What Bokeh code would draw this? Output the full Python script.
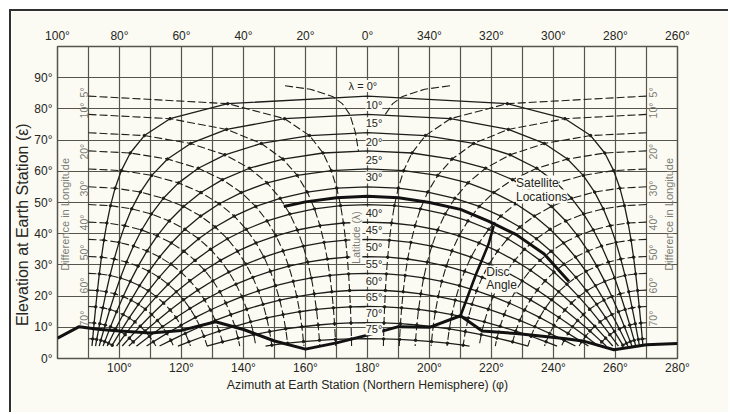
import math
from bokeh.plotting import figure
from bokeh.models import FixedTicker, LinearAxis, Range1d, Label
from bokeh.embed import file_html
from bokeh.resources import INLINE

# ---------------- data ----------------
lat_deg = [5, 10, 15, 20, 25, 30, 35, 40, 45, 50, 55, 60, 65, 70, 75]
dlon_deg = [0, 5, 10, 15, 20, 25, 30, 35, 40, 45, 50, 55, 60, 65, 70, 75]

# elevation (deg) where latitude curve (row) meets longitude-difference curve (column)
elev = [
    [84.11, 81.68, 76.86, 71.45, 65.86, 60.23, 54.59, 48.99, 43.43, 37.93, 32.48, 27.11, 21.80, 16.56, 11.39, 6.29],
    [78.23, 76.86, 73.42, 68.92, 63.92, 58.68, 53.34, 47.96, 42.58, 37.22, 31.89, 26.62, 21.40, 16.24, 11.15, 6.11],
    [72.37, 71.45, 68.92, 65.28, 60.98, 56.29, 51.35, 46.30, 41.19, 36.05, 30.92, 25.82, 20.74, 15.72, 10.74, 5.82],
    [66.55, 65.86, 63.92, 60.98, 57.32, 53.19, 48.74, 44.09, 39.32, 34.48, 29.60, 24.72, 19.84, 14.99, 10.18, 5.41],
    [60.76, 60.23, 58.68, 56.29, 53.19, 49.60, 45.64, 41.42, 37.03, 32.53, 27.95, 23.34, 18.71, 14.08, 9.48, 4.90],
    [55.03, 54.59, 53.34, 51.35, 48.74, 45.64, 42.15, 38.37, 34.39, 30.25, 26.01, 21.70, 17.36, 12.99, 8.63, 4.27],
    [49.34, 48.99, 47.96, 46.30, 44.09, 41.42, 38.37, 35.03, 31.45, 27.70, 23.82, 19.84, 15.81, 11.74, 7.65, None],
    [43.72, 43.43, 42.58, 41.19, 39.32, 37.03, 34.39, 31.45, 28.27, 24.91, 21.40, 17.78, 14.08, 10.33, 6.54, None],
    [38.17, 37.93, 37.22, 36.05, 34.48, 32.53, 30.25, 27.70, 24.91, 21.93, 18.80, 15.55, 12.20, 8.79, 5.33, None],
    [32.68, 32.48, 31.89, 30.92, 29.60, 27.95, 26.01, 23.82, 21.40, 18.80, 16.04, 13.16, 10.18, 7.13, None, None],
    [27.27, 27.11, 26.62, 25.82, 24.72, 23.34, 21.70, 19.84, 17.78, 15.55, 13.16, 10.66, 8.05, 5.36, None, None],
    [21.93, 21.80, 21.40, 20.74, 19.84, 18.71, 17.36, 15.81, 14.08, 12.20, 10.18, 8.05, 5.82, None, None, None],
    [16.67, 16.56, 16.24, 15.72, 14.99, 14.08, 12.99, 11.74, 10.33, 8.79, 7.13, 5.36, None, None, None, None],
    [11.47, 11.39, 11.15, 10.74, 10.18, 9.48, 8.63, 7.65, 6.54, 5.33, None, None, None, None, None, None],
    [6.35, 6.29, 6.11, 5.82, 5.41, 4.90, 4.27, None, None, None, None, None, None, None, None, None],
]

# azimuth distance (deg) from 180 of the same intersections
azoff = [
    [0, 45.11, 63.70, 71.98, 76.53, 79.41, 81.42, 82.90, 84.07, 85.02, 85.82, 86.51, 87.12, 87.67, 88.18, 88.66],
    [0, 26.74, 45.44, 57.05, 64.50, 69.58, 73.26, 76.07, 78.31, 80.15, 81.71, 83.07, 84.28, 85.37, 86.38, 87.34],
    [0, 18.68, 34.26, 45.99, 54.59, 60.97, 65.85, 69.72, 72.86, 75.49, 77.75, 79.73, 81.50, 83.12, 84.62, 86.03],
    [0, 14.35, 27.27, 38.08, 46.78, 53.74, 59.36, 63.97, 67.83, 71.12, 73.99, 76.53, 78.83, 80.94, 82.90, 84.76],
    [0, 11.69, 22.65, 32.37, 40.73, 47.82, 53.80, 58.89, 63.27, 67.09, 70.48, 73.52, 76.29, 78.85, 81.26, 83.54],
    [0, 9.92, 19.42, 28.19, 36.05, 43.00, 49.11, 54.47, 59.21, 63.43, 67.24, 70.71, 73.90, 76.88, 79.69, 82.37],
    [0, 8.67, 17.09, 25.04, 32.39, 39.11, 45.19, 50.68, 55.65, 60.16, 64.30, 68.12, 71.68, 75.03, 78.21, None],
    [0, 7.75, 15.34, 22.63, 29.52, 35.96, 41.93, 47.45, 52.55, 57.27, 61.66, 65.77, 69.64, 73.32, 76.83, None],
    [0, 7.05, 14.00, 20.75, 27.23, 33.40, 39.23, 44.72, 49.88, 54.74, 59.32, 63.66, 67.79, 71.75, 75.57, None],
    [0, 6.52, 12.96, 19.28, 25.41, 31.33, 37.00, 42.43, 47.61, 52.55, 57.27, 61.79, 66.14, 70.34, None, None],
    [0, 6.10, 12.15, 18.11, 23.96, 29.65, 35.18, 40.52, 45.69, 50.68, 55.50, 60.16, 64.69, 69.09, None, None],
    [0, 5.77, 11.51, 17.19, 22.79, 28.30, 33.69, 38.96, 44.09, 49.11, 53.99, 58.77, 63.43, None, None, None],
    [0, 5.51, 11.01, 16.47, 21.88, 27.22, 32.50, 37.69, 42.79, 47.82, 52.75, 57.60, None, None, None, None],
    [0, 5.32, 10.63, 15.91, 21.17, 26.39, 31.56, 36.69, 41.76, 46.78, None, None, None, None, None, None],
    [0, 5.18, 10.34, 15.50, 20.65, 25.77, 30.87, None, None, None, None, None, None, None, None, None],
]

cutoff_elev = 4.0
lat_end_azoff = [88.87, 87.73, 86.54, 85.30, 83.98, 82.54, 80.94, 79.12, 77.00, 74.45, 71.26, 67.07, 61.15, 51.82, 32.90]
equator_azoff = 90.0
equator_elev = [90.0, 84.11, 78.23, 72.37, 66.55, 60.76, 55.03, 49.34, 43.72, 38.17, 32.68, 27.27, 21.93, 16.67, 11.47, 6.35]
dlon_end_azoff = [None, 5.13, 10.25, 15.38, 20.52, 25.67, 30.83, 36.01, 41.21, 46.45, 51.74, 57.10, 62.58, 68.27, 74.40, 81.92]

# the short 1-degree longitude-difference curve near the top
dlon1_lat = [2, 3, 5, 7, 10, 15, 20]
dlon1_azoff = [26.6, 18.45, 11.3, 8.15, 5.7, 3.86, 2.92]
dlon1_elev = [87.4, 86.3, 84.0, 81.7, 78.2, 72.3, 66.5]
dlon1_right_n = 5

lat_label_text = ["λ = 0°", "10°", "15°", "20°", "25°", "30°", "", "40°", "45°", "50°", "55°", "60°", "65°", "70°", "75°"]
dlon_label_text = ["5°", "10°", "20°", "30°", "40°", "50°", "60°", "70°"]
dlon_label_elev = [85.3, 79.5, 66.3, 54.5, 43.6, 34.0, 23.4, 12.8]

horizon_az = [80, 87, 93, 100, 110, 120, 131, 140, 150, 160, 170, 180, 190, 200, 210, 217, 228, 238, 244, 250, 259.5, 270, 280]
horizon_el = [6.5, 10.2, 9.4, 8.8, 8.2, 9.0, 11.8, 9.3, 5.6, 3.0, 5.0, 7.5, 10.2, 10.0, 13.7, 8.8, 8.0, 7.0, 6.3, 5.5, 2.8, 4.4, 4.8]

sat_az = [153, 160, 170, 180, 190, 200, 210, 219, 228, 237, 242, 245]
sat_el = [48.7, 50.2, 51.5, 52.0, 51.5, 50.0, 47.8, 44.0, 39.7, 33.5, 28.0, 24.7]

disc_az = [210, 215, 219, 220.7]
disc_el = [13.7, 27.0, 36.5, 42.5]

bottom_ticks = [100, 120, 140, 160, 180, 200, 220, 240, 260, 280]
top_ticks = [80, 100, 120, 140, 160, 180, 200, 220, 240, 260, 280]
top_tick_text = ["100°", "80°", "60°", "40°", "20°", "0°", "340°", "320°", "300°", "280°", "260°"]
el_ticks = [0, 10, 20, 30, 40, 50, 60, 70, 80, 90]

# ---------------- styling ----------------
BG = "#fbfbf4"
INK = "#1d1d1a"
GRID = "#55554b"
TXT = "#262622"
FAINT = "#7c7c74"
FONT = "Liberation Sans"

p = figure(width=719, height=403, x_range=Range1d(80, 280), y_range=Range1d(0, 100),
           output_backend="svg", toolbar_location=None,
           min_border_left=44, min_border_right=53, min_border_top=35, min_border_bottom=56,
           background_fill_color=BG, border_fill_color=BG,
           outline_line_color=GRID, outline_line_width=1.5, outline_line_alpha=1.0)
p.styles = {"margin-left": "9px", "margin-top": "9px",
            "border-top": "2px solid #303030", "border-left": "2px solid #303030"}

def style_axis(ax, size="12px"):
    ax.axis_line_color = None
    ax.major_tick_line_color = None
    ax.minor_tick_line_color = None
    ax.major_tick_out = 0
    ax.major_tick_in = 0
    ax.major_label_text_font = FONT
    ax.major_label_text_font_size = size
    ax.major_label_text_color = TXT
    ax.major_label_standoff = 4
    ax.axis_label_text_font = FONT
    ax.axis_label_text_font_style = "normal"
    ax.axis_label_text_color = TXT
    ax.axis_label_standoff = 2

xb = p.xaxis[0]
xb.ticker = FixedTicker(ticks=bottom_ticks)
xb.major_label_overrides = {t: f"{t}°" for t in bottom_ticks}
xb.axis_label = "Azimuth at Earth Station (Northern Hemisphere) (φ)"
style_axis(xb)
xb.major_label_standoff = 2
xb.axis_label_text_font_size = "12.3px"
xb.axis_label_standoff = 0

yl = p.yaxis[0]
yl.ticker = FixedTicker(ticks=el_ticks)
yl.major_label_overrides = {t: f"{t}°" for t in el_ticks}
# trailing no-break spaces move the centred title down to where it sits in the original
yl.axis_label = "Elevation at Earth Station (ε)" + "\u00a0" * 10
style_axis(yl)
yl.major_label_standoff = 5
yl.axis_label_text_font_size = "16px"
yl.axis_label_standoff = 0

xt = LinearAxis(ticker=FixedTicker(ticks=top_ticks),
                major_label_overrides={t: s for t, s in zip(top_ticks, top_tick_text)})
style_axis(xt)
p.add_layout(xt, "above")

p.xgrid[0].ticker = FixedTicker(ticks=list(range(90, 280, 10)))
p.ygrid[0].ticker = FixedTicker(ticks=list(range(10, 100, 10)))
for g in (p.xgrid[0], p.ygrid[0]):
    g.grid_line_color = GRID
    g.grid_line_width = 1.2

# ---------------- constant-latitude curves (solid) ----------------
for i in range(len(lat_deg)):
    pts = [(azoff[i][j], elev[i][j]) for j in range(len(dlon_deg)) if elev[i][j] is not None]
    pts.append((lat_end_azoff[i], cutoff_elev))
    xs = [180 - a for a, e in reversed(pts)] + [180 + a for a, e in pts[1:]]
    ys = [e for a, e in reversed(pts)] + [e for a, e in pts[1:]]
    p.line(xs, ys, line_color=INK, line_width=1.3)

# ---------------- constant longitude-difference curves (dashed) ----------------
for j in range(1, len(dlon_deg)):
    pts = [(equator_azoff, equator_elev[j])]
    pts += [(azoff[i][j], elev[i][j]) for i in range(len(lat_deg)) if elev[i][j] is not None]
    pts.append((dlon_end_azoff[j], cutoff_elev))
    for sgn in (-1, 1):
        p.line([180 + sgn * a for a, e in pts], [e for a, e in pts],
               line_color=INK, line_width=1.1, line_dash="8 3")

p.line([180 - a for a in dlon1_azoff], dlon1_elev, line_color=INK, line_width=1.1, line_dash="8 3")
p.line([180 + a for a in dlon1_azoff[:dlon1_right_n]], dlon1_elev[:dlon1_right_n],
       line_color=INK, line_width=1.1, line_dash="8 3")

# intersection dots
dx, dy = [], []
for i in range(len(lat_deg)):
    for j in range(1, len(dlon_deg)):
        if elev[i][j] is not None:
            dx += [180 - azoff[i][j], 180 + azoff[i][j]]
            dy += [elev[i][j], elev[i][j]]
p.scatter(dx, dy, size=2.5, color=INK)

# ---------------- heavy lines ----------------
p.line(horizon_az, horizon_el, line_color="#111111", line_width=3.0, line_join="round")
p.line(sat_az, sat_el, line_color="#111111", line_width=3.0, line_join="round")
p.line(disc_az, disc_el, line_color="#111111", line_width=2.6, line_join="round")

# ---------------- text ----------------
def lab(x, y, text, size="10.5px", align="left", color=TXT, angle=0.0, bg=None, style="normal"):
    kw = dict(x=x, y=y, text=text, text_font=FONT, text_font_size=size, text_color=color,
              text_align=align, text_baseline="middle", angle=angle, text_font_style=style)
    if bg:
        kw.update(background_fill_color=bg, background_fill_alpha=1.0)
    p.add_layout(Label(**kw))

for i, t in enumerate(lat_label_text):
    if not t:
        continue
    if i == 0:
        lab(173.9, elev[i][0] + 3.2, t, size="11px", bg=BG)
    else:
        lab(179.4, elev[i][0] + 3.0, t, size="11px", bg=BG)

lab(176.4, 38.8, "Latitude (λ)", size="10.5px", align="center", angle=math.pi / 2, color=FAINT, bg=BG)

for t, e in zip(dlon_label_text, dlon_label_elev):
    lab(88.6, e, t, size="10.5px", align="center", angle=math.pi / 2, color=FAINT)
    lab(272.0, e, t, size="10.5px", align="center", angle=math.pi / 2, color=FAINT)

lab(82.3, 46.2, "Difference in Longitude", size="11px", align="center", angle=math.pi / 2, color=FAINT)
lab(277.3, 46.2, "Difference in Longitude", size="11px", align="center", angle=math.pi / 2, color=FAINT)

lab(227.9, 56.4, "Satellite", size="12px", bg=BG)
lab(227.9, 51.9, "Locations", size="12px", bg=BG)
lab(218.3, 27.6, "Disc", size="12px", bg=BG)
lab(218.3, 23.4, "Angle", size="12px", bg=BG)

lab(280.9, 7.1, "Physical", size="12px")
lab(280.9, 2.6, "Horizon", size="12px")

lab(180.0, 108.3, "360°", size="12px", align="center")

open("out.html", "w").write(file_html(p, INLINE))
